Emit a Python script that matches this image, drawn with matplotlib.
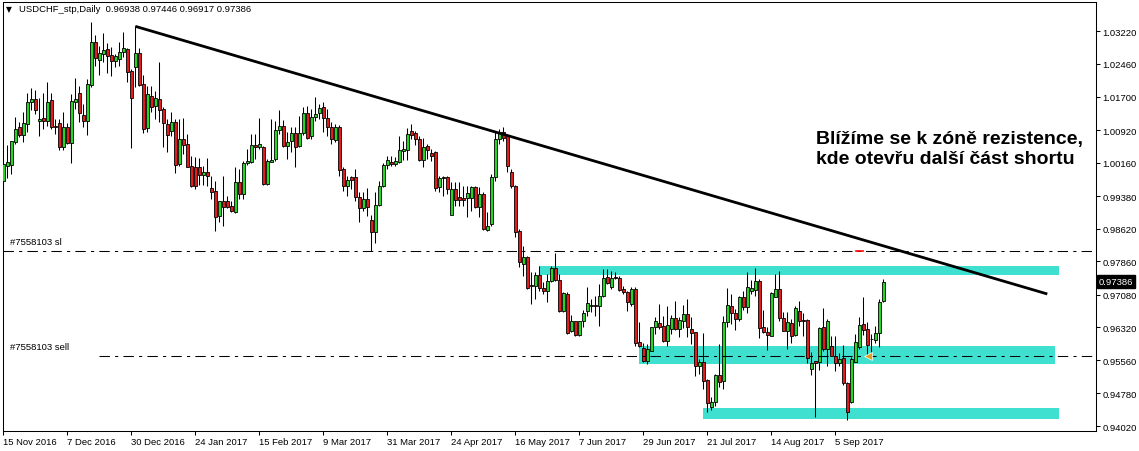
import matplotlib
matplotlib.use('Agg')
import matplotlib.pyplot as plt
import matplotlib.transforms as mtransforms
import numpy as np

# denni svicky USDCHF od 15 Nov 2016, ceny v bodech (cena * 100000)
opens = [99741, 100090, 100114, 100650, 100984, 100813, 101061, 101566, 101636, 101124,
         101201, 101124, 101621, 101015, 101077, 100533, 100984, 100611, 101582, 101784,
         101271, 101139, 101978, 102965, 102561, 102701, 102802, 102670, 102538, 102577,
         102732, 102810, 102305, 102382, 102716, 101994, 100960, 101706, 101473, 101644,
         101411, 101061, 100906, 101100, 100129, 100712, 100595, 100090, 100067, 100051,
         99880, 99935, 99562, 99492, 98909, 99274, 99259, 99142, 99018, 99702,
         99430, 100145, 100168, 100572, 100518, 100518, 99663, 100183, 100246, 100922,
         101022, 100556, 100673, 100843, 100556, 100843, 101310, 100774, 101216, 101310,
         101450, 101193, 100999, 100696, 100983, 100012, 99608, 99818, 99818, 99352,
         99103, 99313, 98823, 98536, 99181, 99608, 100105, 100167, 100129, 100167,
         100439, 100455, 100890, 100851, 100711, 100230, 100556, 100385, 100416, 99600,
         99818, 99818, 98948, 99546, 99352, 99336, 99336, 99336, 99585, 99119,
         99429, 98598, 98730, 99818, 100711, 100867, 100789, 99950, 99608, 98575,
         97798, 97953, 97308, 97293, 97549, 97238, 97161, 97394, 97697, 97425,
         96710, 97098, 96244, 96461, 96150, 96477, 96694, 96811, 96842, 96826,
         97044, 97487, 97254, 97495, 97471, 97215, 97137, 96865, 97215, 95972,
         95840, 95544, 95777, 96321, 96415, 96360, 95995, 96282, 96531, 96282,
         96477, 96633, 96283, 96205, 95428, 95506, 95094, 94473, 94574, 95211,
         95063, 96438, 96811, 96648, 96516, 97021, 96788, 97177, 97200, 97394,
         96322, 96205, 96128, 97037, 97215, 96532, 96244, 96415, 96143, 96710,
         96493, 96493, 95351, 95529, 95506, 96322, 95817, 95895, 95661, 95483,
         95599, 95017, 94589, 95522, 95856, 96400, 96283, 96050, 96034, 96182,
         96938]
highs = [100207, 100572, 100673, 101217, 101100, 101333, 101784, 101901, 101862, 101660,
         101784, 102033, 101784, 101178, 101178, 101333, 101085, 101761, 102126, 101955,
         101528, 102110, 103431, 103136, 102872, 103183, 102950, 102849, 102693, 102965,
         103198, 102825, 102343, 103338, 102825, 102204, 101955, 101955, 101838, 102499,
         101450, 101178, 101333, 101178, 101178, 101194, 100828, 100308, 100284, 100261,
         100075, 100261, 99857, 99741, 99274, 99857, 99391, 99274, 100051, 100012,
         100207, 100479, 100828, 100828, 101194, 100556, 100246, 101178, 101139, 101396,
         101154, 100867, 100983, 100983, 101255, 101450, 101488, 101411, 101683, 101527,
         101566, 101411, 101100, 101061, 101038, 100051, 99857, 99857, 100012, 99468,
         99468, 99569, 98940, 99468, 99740, 100152, 100323, 100323, 100284, 100789,
         100673, 100960, 101061, 100906, 100789, 100727, 100595, 100478, 100439, 99857,
         99857, 99841, 99701, 99701, 99701, 99624, 99608, 99624, 99608, 99585,
         99468, 99002, 99896, 100867, 100944, 100983, 100828, 100012, 99639, 98613,
         98225, 97992, 97603, 97603, 97743, 97370, 97565, 97759, 98054, 97565,
         97137, 97153, 96609, 96477, 96477, 96733, 97254, 96982, 97059, 97324,
         97681, 97681, 97642, 97603, 97526, 97293, 97176, 97254, 97254, 96438,
         95948, 95933, 96337, 96554, 96865, 96593, 96826, 96609, 96927, 96554,
         96843, 96982, 96555, 96205, 95584, 96190, 95118, 94706, 95234, 95933,
         96578, 97239, 97099, 96749, 97060, 97161, 97604, 97433, 97697, 97449,
         96726, 96322, 97153, 97565, 97627, 96672, 96672, 96516, 96827, 96944,
         96656, 96516, 95739, 95545, 96322, 96773, 96516, 96128, 96128, 95716,
         95910, 95040, 95623, 96167, 96571, 97021, 96438, 96167, 96345, 96982,
         97446]
lows = [99251, 99795, 99896, 100595, 100751, 100634, 100867, 101396, 101295, 100774,
        100945, 101023, 100945, 100828, 100463, 100463, 100595, 100152, 101411, 101100,
        100984, 100813, 101932, 102406, 102204, 102499, 102242, 102173, 102382, 102406,
        102615, 102048, 100494, 101916, 101955, 100844, 100883, 101349, 101178, 101100,
        100518, 100401, 100789, 99919, 100075, 100362, 100051, 99585, 99546, 99640,
        99647, 99624, 99313, 98575, 98769, 98692, 99096, 99002, 98987, 99313,
        99313, 100106, 100152, 100246, 100479, 99647, 99647, 100168, 100207, 100828,
        100517, 100245, 100416, 100066, 100517, 100805, 100711, 100711, 101139, 101178,
        100882, 100789, 100595, 100634, 99857, 99507, 99390, 99546, 99274, 98784,
        99041, 98924, 98093, 98279, 99157, 99585, 100012, 100074, 100074, 100152,
        100222, 100222, 100711, 100572, 100206, 100051, 100245, 100206, 99507, 99468,
        99375, 99429, 98940, 99157, 99157, 99157, 98901, 99041, 99095, 98901,
        98590, 98559, 98691, 99740, 100595, 100673, 99934, 99561, 98419, 97720,
        97526, 97215, 96865, 96982, 97176, 97098, 96920, 97370, 97409, 96671,
        96671, 96166, 96205, 96112, 96127, 96321, 96593, 96671, 96593, 96360,
        97021, 97331, 97215, 97448, 97176, 97098, 96710, 96826, 95894, 95855,
        95521, 95467, 95762, 96166, 96282, 95972, 95894, 96166, 96259, 96088,
        96300, 96089, 95933, 95195, 95234, 94884, 94341, 94403, 94496, 94923,
        94884, 96322, 96400, 96268, 96477, 96734, 96656, 97099, 97060, 96066,
        96182, 95801, 96112, 97021, 96462, 96229, 95817, 95957, 96128, 96345,
        96128, 95491, 95219, 94240, 95335, 95778, 95428, 95646, 95312, 95413,
        94978, 94162, 94558, 95506, 95817, 96143, 95700, 95739, 95957, 95856,
        96917]
closes = [100129, 100168, 100657, 100945, 100813, 101085, 101566, 101644, 101396, 101178,
          101124, 101566, 100999, 100984, 100533, 100984, 100611, 101590, 101644, 101310,
          101139, 101994, 102965, 102592, 102709, 102779, 102654, 102538, 102639, 102732,
          102825, 102281, 101660, 102716, 101971, 100937, 101761, 101465, 101668, 101388,
          101077, 100813, 101100, 100114, 100712, 100580, 100067, 99624, 99608, 99880,
          99935, 99857, 99484, 98901, 99259, 99119, 99119, 99026, 99702, 99430,
          100152, 100207, 100572, 100518, 100595, 99663, 100207, 100222, 100922, 101023,
          100556, 100649, 100843, 100533, 100843, 101310, 100727, 101216, 101294, 101426,
          101201, 100999, 100711, 100983, 99989, 99608, 99756, 99763, 99352, 99095,
          99313, 99119, 98536, 99181, 99608, 100105, 100222, 100129, 100206, 100455,
          100478, 100828, 100812, 100711, 100230, 100517, 100463, 100323, 99569, 99802,
          99795, 99546, 99546, 99297, 99297, 99297, 99453, 99585, 99119, 99429,
          98613, 98691, 99818, 100711, 100867, 100727, 100074, 99608, 98536, 97836,
          97953, 97238, 97277, 97549, 97230, 97176, 97394, 97697, 97432, 96710,
          97114, 96189, 96461, 96150, 96461, 96648, 96881, 96842, 96811, 97044,
          97471, 97355, 97471, 97464, 97199, 97137, 96904, 97215, 95948, 95878,
          95544, 95816, 96321, 96461, 96337, 95995, 96384, 96531, 96282, 96492,
          96633, 96322, 96190, 95413, 95506, 95079, 94550, 94574, 95211, 95040,
          96438, 96843, 96648, 96516, 97021, 96788, 97254, 97231, 97394, 96299,
          96205, 96151, 97114, 97215, 96532, 96244, 96438, 96128, 96765, 96477,
          96477, 95599, 95491, 95491, 96299, 95817, 96462, 95661, 95483, 95584,
          95017, 94356, 95584, 95972, 96376, 96268, 95910, 96050, 96182, 96905,
          97386]

# popisky osy x (index svicky) a osy y
date_pos = [0, 16, 32, 48, 64, 80, 96, 112, 128, 144, 160, 176, 192, 208]
date_labels = ['15 Nov 2016', '7 Dec 2016', '30 Dec 2016', '24 Jan 2017', '15 Feb 2017',
               '9 Mar 2017', '31 Mar 2017', '24 Apr 2017', '16 May 2017', '7 Jun 2017',
               '29 Jun 2017', '21 Jul 2017', '14 Aug 2017', '5 Sep 2017']
price_ticks = [1.03220, 1.02460, 1.01700, 1.00920, 1.00160, 0.99380, 0.98620,
               0.97860, 0.97080, 0.96320, 0.95560, 0.94780, 0.94020]

# trendova cara (index, cena), urovne obchodu a zony
trend_x = [33, 261]
trend_y = [1.03338, 0.97099]
sl_level = 0.98101
sell_level = 0.95653
sell_start = 24
zones = [(134, 263.8, 0.97541, 0.97744),
         (159, 262.9, 0.95467, 0.95894),
         (175, 263.8, 0.94185, 0.94434)]
note = 'Blížíme se k zóně rezistence,\nkde otevřu další část shortu'

o = np.array(opens) / 1e5
h = np.array(highs) / 1e5
l = np.array(lows) / 1e5
c = np.array(closes) / 1e5
x = np.arange(len(o))

W, H = 1139, 452
fig = plt.figure(figsize=(W / 100, H / 100), dpi=100)
ax = fig.add_axes([3 / W, 1 - 432 / H, (1096 - 3) / W, (432 - 3) / H])
ax.set_xlim(-0.075, 273.175)
ax.set_ylim(0.93905, 1.03905)

# zony pod svickami
for x0, x1, y0, y1 in zones:
    ax.fill_between([x0, x1], y0, y1, color='#40e0d0', lw=0, zorder=1)

# svicky
ax.vlines(x, l, h, color='black', lw=0.75, zorder=2)
up = c >= o
ax.bar(x, np.abs(c - o), bottom=np.minimum(o, c), width=0.75,
       color=np.where(up, '#22d822', '#e21c1c'), edgecolor='black', linewidth=0.6, zorder=3)

# urovne sl a sell
ax.axhline(sl_level, color='black', lw=0.75, ls=(0, (10, 5, 3, 5)), zorder=4)
ax.plot([sell_start, 273.175], [sell_level, sell_level], color='black', lw=0.75,
        ls=(0, (10, 5, 3, 5)), zorder=4)
ax.plot([213.2, 215], [sl_level, sl_level], color='red', lw=1.2, zorder=5)
ax.plot(216.2, sell_level, marker='<', ms=6, color='#e0a020', mec='white', mew=0.5, zorder=6)
ax.text(1.8, sl_level + 0.0011, '#7558103 sl', fontsize=6.8, family='Liberation Sans', va='bottom')
ax.text(1.8, sell_level + 0.0011, '#7558103 sell', fontsize=6.8, family='Liberation Sans', va='bottom')

# trendova cara
ax.plot(trend_x, trend_y, color='black', lw=2, solid_capstyle='butt', zorder=6)

ax.text(203.2, 1.0093, note, fontsize=14, fontweight='bold', family='Liberation Sans',
        va='top', ha='left', linespacing=1.25, zorder=7)

# osy ve stylu MT4
ax.yaxis.tick_right()
ax.set_yticks(price_ticks)
ax.set_yticklabels(['%.5f' % p for p in price_ticks])
ax.set_xticks(date_pos)
ax.set_xticklabels(date_labels, ha='left')
ax.tick_params(axis='both', direction='out', length=3, width=0.75, labelsize=6.8, pad=1.5)
for t in ax.get_xticklabels() + ax.get_yticklabels():
    t.set_family('Liberation Sans')
for s in ax.spines.values():
    s.set_linewidth(0.75)

# aktualni cena na ose
tr = mtransforms.blended_transform_factory(ax.transAxes, ax.transData)
ax.text(1.0025, c[-1], '%.5f' % c[-1], transform=tr, color='white', fontsize=6.8,
        family='Liberation Sans', va='center', ha='left', clip_on=False,
        bbox=dict(facecolor='black', edgecolor='black', pad=1.2))

# hlavicka grafu
fig.text(6 / W, 1 - 10 / H, '▼', fontsize=5.5, family='DejaVu Sans', va='center')
fig.text(19 / W, 1 - 10 / H, 'USDCHF_stp,Daily  %.5f %.5f %.5f %.5f' % (o[-1], h[-1], l[-1], c[-1]),
         fontsize=6.8, family='Liberation Sans', va='center')

fig.savefig('out.png', dpi=100)
